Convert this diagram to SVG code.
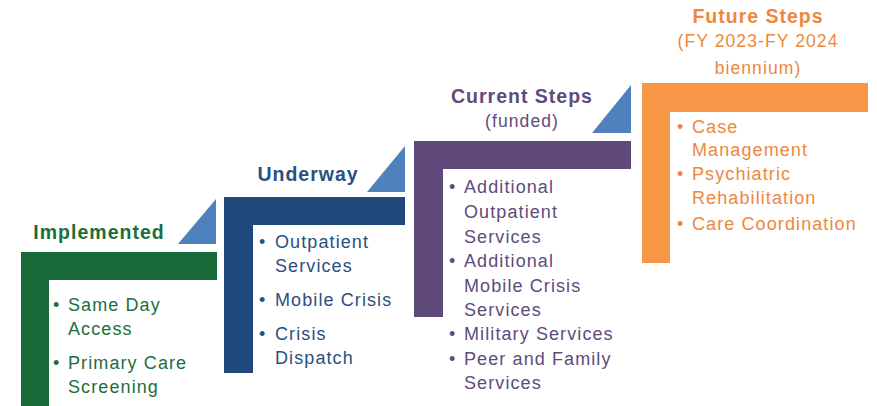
<svg xmlns="http://www.w3.org/2000/svg" width="877" height="406" viewBox="0 0 877 406">
<style>
text{font-family:"Liberation Sans",Arial,sans-serif}
.h{font-size:19.5px;font-weight:bold;letter-spacing:1px;text-anchor:middle}
.s{font-size:17.5px;letter-spacing:1.1px;text-anchor:middle}
.b{font-size:18px;letter-spacing:1.1px}
.tri{fill:#4F81BD}
.g{fill:#17693A}.gt{fill:#1C6E3D}
.bl{fill:#1F487C}.blt{fill:#2B4F7E}
.p{fill:#5F497A}.pt{fill:#604B7C}
.o{fill:#F79646}.ot{fill:#EE873C}
</style>
<rect width="877" height="406" fill="#FFFFFF"/>
<g id="implemented">
<path class="g" d="M21,252 H217 V280 H49 V406 H21 Z"/>
<polygon class="tri" points="178,244 216,244 216,199"/>
<text class="h gt" x="99" y="239">Implemented</text>
<g class="b gt">
<text x="53" y="311">•</text><text x="68" y="311">Same Day</text>
<text x="68" y="335">Access</text>
<text x="53" y="369">•</text><text x="68" y="369">Primary Care</text>
<text x="68" y="393">Screening</text>
</g>
</g>
<g id="underway">
<path class="bl" d="M224,197 H405 V225 H253 V373 H224 Z"/>
<polygon class="tri" points="367,192 405,192 405,146"/>
<text class="h blt" x="308" y="181">Underway</text>
<g class="b blt">
<text x="259" y="248">•</text><text x="275" y="248">Outpatient</text>
<text x="275" y="272">Services</text>
<text x="259" y="306">•</text><text x="275" y="306">Mobile Crisis</text>
<text x="259" y="340">•</text><text x="275" y="340">Crisis</text>
<text x="275" y="364">Dispatch</text>
</g>
</g>
<g id="current">
<path class="p" d="M414,141 H631 V169 H443 V317 H414 Z"/>
<polygon class="tri" points="592,133 631,133 631,85"/>
<text class="h pt" x="522" y="103">Current Steps</text>
<text class="s pt" x="522" y="127">(funded)</text>
<g class="b pt">
<text x="449" y="193">•</text><text x="464" y="193">Additional</text>
<text x="464" y="218">Outpatient</text>
<text x="464" y="243">Services</text>
<text x="449" y="267">•</text><text x="464" y="267">Additional</text>
<text x="464" y="292">Mobile Crisis</text>
<text x="464" y="316">Services</text>
<text x="449" y="340">•</text><text x="464" y="340">Military Services</text>
<text x="449" y="365">•</text><text x="464" y="365">Peer and Family</text>
<text x="464" y="389">Services</text>
</g>
</g>
<g id="future">
<path class="o" d="M642,83 H868 V112 H670 V263 H642 Z"/>
<text class="h ot" x="758" y="23">Future Steps</text>
<text class="s ot" x="758" y="47">(FY 2023-FY 2024</text>
<text class="s ot" x="758" y="74">biennium)</text>
<g class="b ot">
<text x="677" y="133">•</text><text x="692" y="133">Case</text>
<text x="692" y="156">Management</text>
<text x="677" y="180">•</text><text x="692" y="180">Psychiatric</text>
<text x="692" y="204">Rehabilitation</text>
<text x="677" y="230">•</text><text x="692" y="230">Care Coordination</text>
</g>
</g>
<g id="connectors"/>
</svg>
